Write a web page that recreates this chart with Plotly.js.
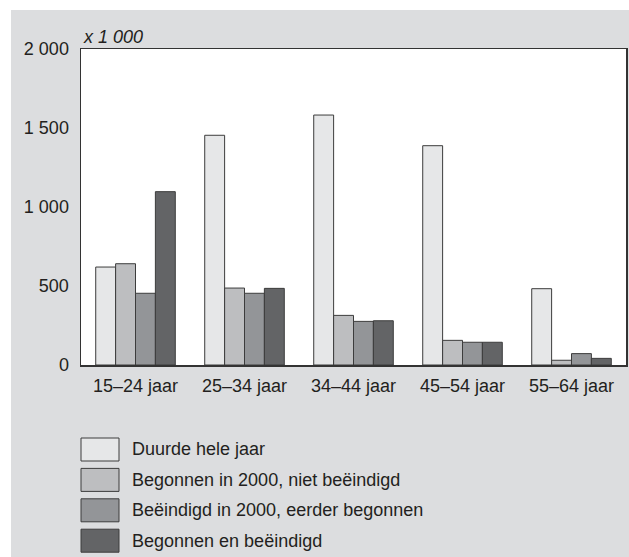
<!DOCTYPE html>
<html>
<head>
<meta charset="utf-8">
<script src="https://cdn.plot.ly/plotly-3.0.1.min.js"></script>
<style>html,body{margin:0;padding:0;background:#fff;}#chart{width:629px;height:557px;}</style>
</head>
<body>
<div id="chart"></div>
<script>
const categories = ["15\u201324 jaar", "25\u201334 jaar", "34\u201344 jaar", "45\u201354 jaar", "55\u201364 jaar"];
const seriesNames = ["Duurde hele jaar", "Begonnen in 2000, niet be\u00ebindigd", "Be\u00ebindigd in 2000, eerder begonnen", "Begonnen en be\u00ebindigd"];
const duurdeHeleJaar = [620, 1454, 1582, 1388, 483];
const begonnenNietBeeindigd = [641, 487, 314, 156, 30];
const beeindigdEerderBegonnen = [454, 454, 276, 144, 72];
const begonnenEnBeeindigd = [1097, 485, 280, 144, 42];
const yTicks = [0, 500, 1000, 1500, 2000];
const colors = ["#e6e7e8", "#bdbec0", "#939598", "#636466"];

const W = 629, H = 557;
const M = {l: 81, r: 3, t: 49, b: 192};
const pw = W - M.l - M.r, ph = H - M.t - M.b;
const px = x => (x - M.l) / pw;
const py = y => (H - M.b - y) / ph;
const FONT = 'Liberation Sans, Arial, sans-serif';

const seriesValues = [duurdeHeleJaar, begonnenNietBeeindigd, beeindigdEerderBegonnen, begonnenEnBeeindigd];
const traces = seriesValues.map((vals, i) => ({
  type: 'bar', x: categories, y: vals, name: seriesNames[i],
  marker: {color: colors[i], line: {color: '#3c3c3c', width: 1}},
  hoverinfo: 'none'
}));

const shapes = [
  {type: 'rect', xref: 'paper', yref: 'paper', x0: px(0), x1: px(W), y0: py(0), y1: py(10), fillcolor: '#ffffff', line: {width: 0}},
  {type: 'rect', xref: 'paper', yref: 'paper', x0: px(0), x1: px(11), y0: py(0), y1: py(H), fillcolor: '#ffffff', line: {width: 0}}
];
const annotations = [
  {xref: 'paper', yref: 'paper', x: 0, y: 1, xanchor: 'left', yanchor: 'bottom', yshift: 0, showarrow: false,
   text: '<i>x 1 000</i>', font: {family: FONT, size: 18, color: '#231f20'}}
];
const legendTop = 438, legendStep = 30.4, boxH = 23;
seriesNames.forEach((name, i) => {
  const top = legendTop + i * legendStep;
  shapes.push({type: 'rect', xref: 'paper', yref: 'paper', x0: px(81), x1: px(119), y0: py(top + boxH), y1: py(top),
    fillcolor: colors[i], line: {color: '#3c3c3c', width: 1}});
  annotations.push({xref: 'paper', yref: 'paper', x: px(130), y: py(top + boxH / 2), xanchor: 'left', yanchor: 'middle',
    showarrow: false, text: name, font: {family: FONT, size: 18, color: '#231f20'}});
});

const layout = {
  width: W, height: H, margin: M,
  paper_bgcolor: '#dcdddf', plot_bgcolor: '#ffffff',
  separators: ', ',
  barmode: 'group', bargap: 0.27, bargroupgap: 0,
  showlegend: false,
  font: {family: FONT, size: 18, color: '#231f20'},
  xaxis: {showline: true, linecolor: '#333333', linewidth: 1.5, mirror: true, ticks: 'outside', ticklen: 4,
    tickcolor: 'rgba(0,0,0,0)', tickfont: {size: 18}, showgrid: false, zeroline: false},
  yaxis: {range: [0, 2000], tickvals: yTicks, separatethousands: true, tickformat: ',d', showline: true,
    linecolor: '#333333', linewidth: 1.5, mirror: true, ticks: 'outside', ticklen: 7, tickcolor: 'rgba(0,0,0,0)',
    tickfont: {size: 18}, showgrid: false, zeroline: false},
  shapes: shapes, annotations: annotations
};
Plotly.newPlot('chart', traces, layout, {displayModeBar: false, staticPlot: true});
</script>
</body>
</html>
